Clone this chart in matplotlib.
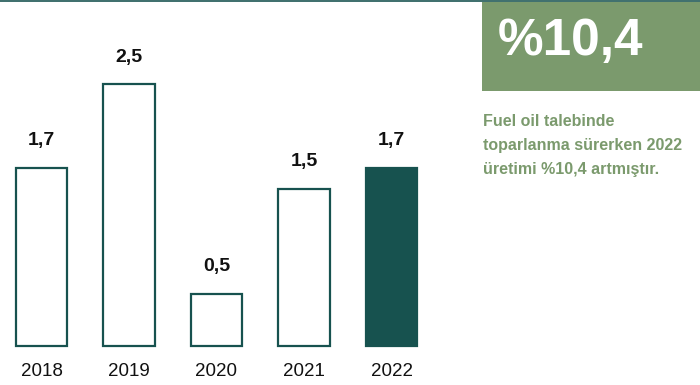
import matplotlib
matplotlib.use("Agg")
import matplotlib.pyplot as plt

# data
years = ["2018", "2019", "2020", "2021", "2022"]
values = [1.7, 2.5, 0.5, 1.5, 1.7]
value_labels = ["1,7", "2,5", "0,5", "1,5", "1,7"]
highlight = "%10,4"
note_lines = ["Fuel oil talebinde", "toparlanma sürerken 2022", "üretimi %10,4 artmıştır."]

TEAL = "#17524f"
GREEN = "#7b9a6d"
W, H = 700, 385

plt.rcParams["font.family"] = ["Liberation Sans", "DejaVu Sans"]

fig = plt.figure(figsize=(7, 3.85), dpi=100)
ax = fig.add_axes([0, 0, 1, 1])

# pixel geometry: bar centres 87.5 px apart, first at x=41.5, baseline at y=346 px, 104.8 px per unit
step, x0 = 87.5, 41.5
unit, base = 104.8, 346
ax.set_xlim(-x0 / step, (W - x0) / step)
ax.set_ylim(-(H - base) / unit, base / unit)
ax.axis("off")

xs = list(range(len(years)))
faces = ["white"] * (len(years) - 1) + [TEAL]
ax.bar(xs, values, width=0.585, color=faces, edgecolor=TEAL, linewidth=1.6)

for x, v, lab in zip(xs, values, value_labels):
    ax.text(x, v + 27 / unit, lab, ha="center", va="center",
            fontsize=14, fontweight="bold", color="#111111")
for x, yr in zip(xs, years):
    ax.text(x, -26 / unit, yr, ha="center", va="center",
            fontsize=13.5, color="#111111")

# top rule
fig.add_artist(plt.Line2D([0, 1], [1 - 0.8 / H, 1 - 0.8 / H], color="#3c6e6b",
                          linewidth=1.4, transform=fig.transFigure))

# green highlight box
box = plt.Rectangle((481.5 / W, 1 - 90.5 / H), (W - 481.5) / W, 88.5 / H,
                    transform=fig.transFigure, facecolor=GREEN, edgecolor="none")
fig.add_artist(box)
fig.text(498 / W, 1 - 55 / H, highlight, ha="left", va="baseline",
         fontsize=37, fontweight="bold", color="white")

for i, line in enumerate(note_lines):
    fig.text(483 / W, 1 - (125.7 + 24 * i) / H, line, ha="left", va="baseline",
             fontsize=11.5, fontweight="bold", color=GREEN)

fig.savefig("out.png", dpi=100)
